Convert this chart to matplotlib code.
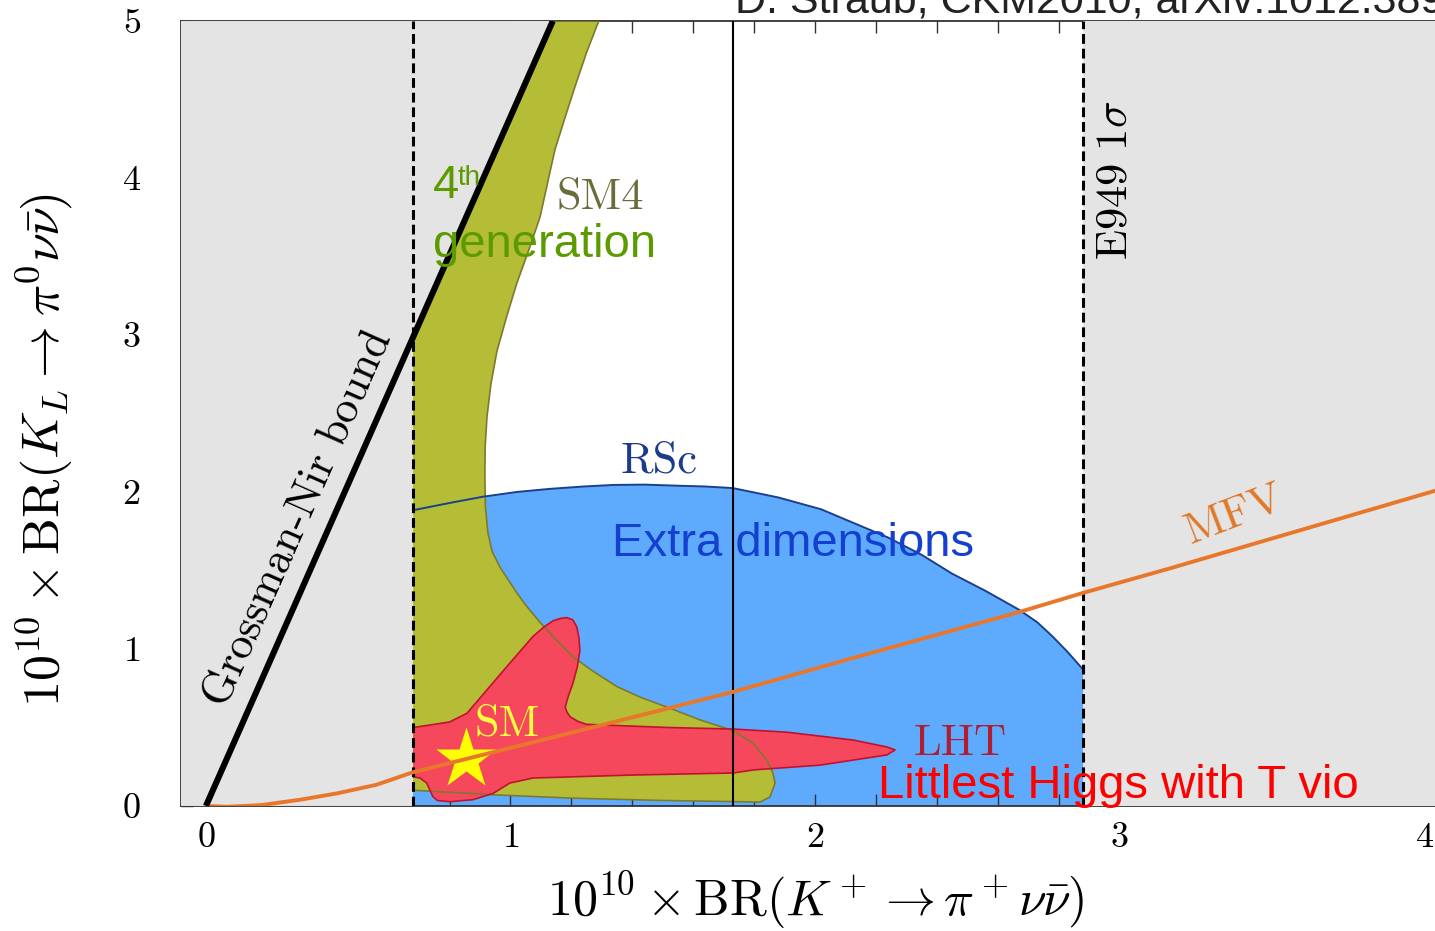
import numpy as np
import matplotlib
matplotlib.use("Agg")
import matplotlib.pyplot as plt
from matplotlib.ticker import MultipleLocator, FixedLocator

plt.rcParams['mathtext.fontset'] = 'cm'
plt.rcParams['font.family'] = 'cmr10'
plt.rcParams['axes.formatter.use_mathtext'] = True

# --- data ---
# experimental band (E949 1 sigma) and central value
e949_lo, e949_c, e949_hi = 0.68, 1.73, 2.88
gn_slope = 4.39   # Grossman-Nir bound, BR(KL) < slope * BR(K+)

# SM point
sm_x, sm_y = 0.855, 0.30

# MFV curve
mfv_x = [0.0, 0.07, 0.18, 0.31, 0.43, 0.56, 0.68, 1.0, 1.35, 1.73, 2.12, 2.67, 2.88, 3.17, 4.04]
mfv_y = [0.0, -0.005, 0.005, 0.04, 0.08, 0.135, 0.215, 0.37, 0.54, 0.726, 0.94, 1.235, 1.357, 1.516, 2.01]

# RSc region (upper arc, filled down to 0)
rsc_x = [0.60, 0.60, 0.683, 0.80, 0.91, 1.02, 1.13, 1.24, 1.34, 1.44, 1.55, 1.64, 1.73, 1.88,
         2.02, 2.13, 2.24, 2.35, 2.45, 2.56, 2.67, 2.73, 2.78, 2.83, 2.88, 3.0, 3.0]
rsc_y = [0.0, 1.84, 1.885, 1.93, 1.97, 2.0, 2.02, 2.035, 2.045, 2.047, 2.04, 2.035, 2.025, 1.965,
         1.89, 1.80, 1.71, 1.60, 1.48, 1.37, 1.25, 1.17, 1.08, 0.98, 0.87, 0.6, 0.0]

# SM4 region (closed outline)
sm4_x = [0.60, 0.60, 1.0, 1.29, 1.25, 1.215, 1.18, 1.146, 1.097, 1.06, 1.021, 0.988, 0.956,
         0.936, 0.923, 0.917, 0.916, 0.918, 0.926, 0.94, 0.966, 1.02, 1.05, 1.097, 1.15,
         1.205, 1.27, 1.35, 1.43, 1.514, 1.62, 1.731, 1.796, 1.842, 1.862, 1.869, 1.852, 1.82,
         1.5, 1.2, 0.956, 0.683, 0.60]
sm4_y = [0.11, 2.6, 5.0, 5.0, 4.8, 4.6, 4.39, 4.18, 3.75, 3.54, 3.33, 3.12, 2.90,
         2.69, 2.48, 2.29, 2.10, 1.90, 1.74, 1.62, 1.52, 1.36, 1.28, 1.17, 1.06,
         0.95, 0.86, 0.76, 0.69, 0.63, 0.55, 0.48, 0.40, 0.293, 0.21, 0.146, 0.057, 0.025,
         0.035, 0.05, 0.07, 0.10, 0.11]

# LHT region (closed outline)
lht_x = [0.60, 0.683, 0.80, 0.857, 0.923, 0.998, 1.074, 1.11, 1.14, 1.165, 1.185, 1.205, 1.218,
         1.225, 1.228, 1.22, 1.205, 1.19, 1.18, 1.185, 1.195, 1.22, 1.25, 1.514, 1.731, 1.908,
         2.125, 2.236, 2.263, 2.236, 2.016, 1.80, 1.731, 1.40, 1.074, 0.998, 0.943, 0.877,
         0.80, 0.76, 0.745, 0.725, 0.703, 0.683, 0.60]
lht_y = [0.50, 0.50, 0.535, 0.59, 0.74, 0.91, 1.08, 1.14, 1.18, 1.195, 1.20, 1.185, 1.14,
         1.07, 0.99, 0.89, 0.78, 0.70, 0.63, 0.60, 0.57, 0.54, 0.52, 0.50, 0.49, 0.47,
         0.42, 0.376, 0.357, 0.325, 0.26, 0.23, 0.21, 0.197, 0.178, 0.146, 0.08, 0.04,
         0.027, 0.035, 0.06, 0.146, 0.178, 0.185, 0.19]

xmin, xmax = -0.082, 4.036
ymin, ymax = 0.0, 5.0

GRAY = '#e4e4e4'
BLUE = '#5eabfd'
OLIVE = '#b4bd35'
RED = '#f6485c'
ORANGE = '#e8772c'

fig = plt.figure(figsize=(14.35, 9.31), dpi=100)
ax = fig.add_axes([0.1261, 0.1343, 1 - 0.1261, 0.8431])

# filled regions
ax.fill(rsc_x, rsc_y, color=BLUE, lw=0, zorder=1)
ax.fill(sm4_x, sm4_y, color=OLIVE, lw=0, zorder=2)
ax.fill(lht_x, lht_y, color=RED, lw=0, zorder=3)

# outlines on top of the fills
ax.plot(rsc_x[1:-1], rsc_y[1:-1], color='#1b3f8f', lw=1.4, zorder=3.6)
ax.plot(sm4_x, sm4_y, color='#7c7a2e', lw=1.2, zorder=3.5)
ax.plot(lht_x + lht_x[:1], lht_y + lht_y[:1], color='#c0122e', lw=1.2, zorder=3.7)

# excluded areas (outside 1 sigma and beyond Grossman-Nir)
ax.fill([xmin, e949_lo, e949_lo, ymax / gn_slope, xmin],
        [ymin, ymin, e949_lo * gn_slope, ymax, ymax], color=GRAY, lw=0, zorder=4)
ax.fill([e949_hi, xmax + 0.1, xmax + 0.1, e949_hi],
        [ymin, ymin, ymax, ymax], color=GRAY, lw=0, zorder=4)

ax.axvline(e949_c, color='black', lw=1.5, zorder=5)
for xv in (e949_lo, e949_hi):
    ax.axvline(xv, color='black', lw=2.2, ls=(0, (3.2, 1.6)), zorder=5)

ax.plot(sm_x, sm_y, marker='*', ms=46, color='#ffff00', mec='none', zorder=5.5)
ax.plot(mfv_x, mfv_y, color=ORANGE, lw=2.8, zorder=6, solid_capstyle='butt')
ax.plot([0, ymax / gn_slope], [0, ymax], color='black', lw=4.4, zorder=6,
        solid_capstyle='butt')

# labels on the plot
serif = dict(fontfamily='cmr10', fontsize=32, zorder=8)
sans = ['Liberation Sans', 'DejaVu Sans']
ax.text(0.302, 1.834, 'Grossman-Nir bound', rotation=66, ha='center', va='center',
        color='black', **serif)
ax.text(1.294, 3.809, 'SM4', ha='center', va='baseline', color='#6b6b3b', **serif)
ax.text(1.488, 2.127, 'RSc', ha='center', va='baseline', color='#1d3b8c', **serif)
ax.text(2.476, 0.325, 'LHT', ha='center', va='baseline', color='#b01c30', **serif)
ax.text(0.988, 0.452, 'SM', ha='center', va='baseline', color='#ffff40', **serif)
ax.text(3.379, 1.853, 'MFV', rotation=21, ha='center', va='center', color='#e07828', **serif)
ax.text(2.988, 3.987, r'$\mathrm{E949}\ 1\sigma$', rotation=90, ha='center', va='center',
        fontsize=32, color='black', zorder=8)

ax.text(0.745, 3.873, '4', fontfamily=sans, fontsize=34, color='#5b9b00', va='baseline', zorder=9)
ax.text(0.828, 3.955, 'th', fontfamily=sans, fontsize=20, color='#5b9b00', va='baseline', zorder=9)
ax.text(0.745, 3.497, 'generation', fontfamily=sans, fontsize=34, color='#5b9b00',
        va='baseline', zorder=9)
ax.text(1.333, 1.592, 'Extra dimensions', fontfamily=sans, fontsize=34, color='#1440d0',
        va='baseline', zorder=9)
ax.text(2.207, 0.051, 'Littlest Higgs with T vio', fontfamily=sans, fontsize=34,
        color='#ff0000', va='baseline', zorder=9, clip_on=False)

fig.text(735 / 1435, 1 - 12 / 931, 'D. Straub, CKM2010, arXiv:1012.3893', fontfamily=sans,
         fontsize=31, color='#222222', va='baseline', ha='left')

# axes
ax.set_xlim(xmin, xmax)
ax.set_ylim(ymin, ymax)
ax.xaxis.set_major_locator(MultipleLocator(1))
ax.xaxis.set_minor_locator(MultipleLocator(0.2))
ax.yaxis.set_major_locator(MultipleLocator(1))
ax.yaxis.set_minor_locator(FixedLocator([0.2]))
ax.tick_params(which='both', direction='in', top=True, right=False, length=8.5,
               width=1.0, color='#333333')
ax.tick_params(axis='x', which='major', pad=12, labelsize=26)
ax.tick_params(axis='y', which='major', pad=29, labelsize=26)
for side in ('left', 'bottom', 'top'):
    ax.spines[side].set_linewidth(1.3)
    ax.spines[side].set_color('#333333')
ax.spines['right'].set_visible(False)

fig.text(816 / 1435, 1 - 900 / 931, r'$10^{10} \times \mathrm{BR}(K^+ \to \pi^+ \nu\bar{\nu})$',
         fontsize=36, ha='center', va='center')
fig.text(45 / 1435, 1 - 450 / 931, r'$10^{10} \times \mathrm{BR}(K_L \to \pi^0 \nu\bar{\nu})$',
         fontsize=37.5, ha='center', va='center', rotation=90)

fig.savefig('out.png', dpi=100)
